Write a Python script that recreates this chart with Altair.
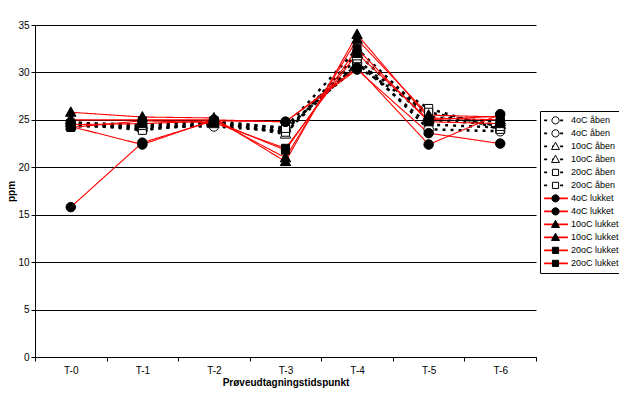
import altair as alt
import pandas as pd

times = ["T-0", "T-1", "T-2", "T-3", "T-4", "T-5", "T-6"]

keys = ["4oC åben#1", "4oC åben#2", "10oC åben#1", "10oC åben#2", "20oC åben#1", "20oC åben#2",
        "4oC lukket#1", "4oC lukket#2", "10oC lukket#1", "10oC lukket#2", "20oC lukket#1", "20oC lukket#2"]

aaben4_1 = [24.8, 24.0, 24.5, 24.0, 31.0, 24.5, 24.2]
aaben4_2 = [24.5, 24.3, 24.3, 23.8, 31.5, 24.0, 23.8]
aaben10_1 = [24.7, 24.5, 24.8, 23.5, 32.0, 25.0, 24.5]
aaben10_2 = [24.4, 24.2, 24.6, 24.2, 32.5, 25.3, 24.8]
aaben20_1 = [24.6, 23.9, 24.7, 23.7, 30.9, 26.2, 24.0]
aaben20_2 = [24.3, 24.4, 24.9, 24.1, 30.6, 25.8, 24.3]
lukket4_1 = [15.8, 22.6, 24.9, 24.8, 30.5, 22.4, 25.6]
lukket4_2 = [24.3, 22.4, 25.0, 24.8, 30.3, 23.6, 22.5]
lukket10_1 = [25.8, 25.3, 25.2, 20.6, 34.0, 25.2, 25.0]
lukket10_2 = [25.0, 25.0, 25.0, 21.0, 33.5, 25.5, 25.3]
lukket20_1 = [24.5, 24.6, 24.9, 21.8, 32.5, 24.8, 24.6]
lukket20_2 = [24.2, 24.9, 24.7, 22.0, 32.0, 25.0, 25.4]

series_values = [aaben4_1, aaben4_2, aaben10_1, aaben10_2, aaben20_1, aaben20_2,
                 lukket4_1, lukket4_2, lukket10_1, lukket10_2, lukket20_1, lukket20_2]

# marker glyphs in the unit box
CIRCLE = "M-1,0A1,1,0,1,1,1,0A1,1,0,1,1,-1,0Z"
TRIANGLE = "M0,-1.15L1.1,0.85L-1.1,0.85Z"
SQUARE = "M-0.85,-0.85H0.85V0.85H-0.85Z"
LINE_GLYPH = "M-3.3,0H3.3"

line_colors = ["black"] * 6 + ["#FF0000"] * 6
line_dashes = [[3, 5]] * 6 + [[1, 0]] * 6
marker_shapes = [CIRCLE, CIRCLE, TRIANGLE, TRIANGLE, SQUARE, SQUARE] * 2
marker_fills = ["white"] * 6 + ["black"] * 6

rows = []
for k, vals in zip(keys, series_values):
    for t, v in zip(times, vals):
        rows.append({"series": k, "mk": "m" + k, "time": t, "ppm": v})
df = pd.DataFrame(rows)
mkeys = ["m" + k for k in keys]

FONT = "Liberation Sans"
LX, LY = 505, 86

x = alt.X("time:N", sort=times,
          scale=alt.Scale(type="band", paddingInner=0, paddingOuter=0),
          axis=alt.Axis(title="Prøveudtagningstidspunkt", tickBand="extent", labelAngle=0,
                        grid=False, domainColor="black", tickColor="black", tickSize=4,
                        labelFont=FONT, labelFontSize=10, labelColor="black", labelPadding=4,
                        titleFont=FONT, titleFontSize=10, titleFontWeight="bold",
                        titleColor="black", titlePadding=2))
y = alt.Y("ppm:Q", scale=alt.Scale(domain=[0, 35], nice=False),
          axis=alt.Axis(title="ppm", values=[0, 5, 10, 15, 20, 25, 30, 35], grid=True,
                        gridColor="black", gridOpacity=1, domainColor="black", tickColor="black",
                        tickSize=4, labelFont=FONT, labelFontSize=10, labelColor="black",
                        labelPadding=2, titleFont=FONT, titleFontSize=10, titleFontWeight="bold",
                        titleColor="black", titlePadding=1))

leg_common = dict(orient="none", legendX=LX, legendY=LY, title=None, padding=3,
                  labelFont=FONT, labelFontSize=9, labelColor="black", rowPadding=0,
                  clipHeight=12.75, symbolSize=52, symbolOffset=8, labelOffset=10)

line_legend = alt.Legend(
    **leg_common, strokeColor="black", symbolType=LINE_GLYPH,
    labelExpr="substring(datum.label, 0, length(datum.label) - 2)",
    symbolStrokeWidth=1.8)

mark_legend = alt.Legend(
    **leg_common, labelExpr="''",
    symbolStrokeColor="black", symbolStrokeWidth=1)

base = alt.Chart(df)

lines = base.mark_line().encode(
    x=x, y=y,
    color=alt.Color("series:N", scale=alt.Scale(domain=keys, range=line_colors), legend=line_legend),
    strokeDash=alt.StrokeDash("series:N", scale=alt.Scale(domain=keys, range=line_dashes), legend=line_legend),
    strokeWidth=alt.condition("indexof(datum.series, 'lukket') >= 0", alt.value(1.1), alt.value(2.5)),
)

points = base.mark_point(filled=True, strokeWidth=1, opacity=1, size=90).encode(
    x=x, y=y,
    shape=alt.Shape("mk:N", scale=alt.Scale(domain=mkeys, range=marker_shapes), legend=mark_legend),
    fill=alt.Fill("mk:N", scale=alt.Scale(domain=mkeys, range=marker_fills), legend=mark_legend),
    stroke=alt.Stroke("mk:N", scale=alt.Scale(domain=mkeys, range=["black"] * 12), legend=mark_legend),
)

chart = alt.layer(lines, points).properties(
    width=501, height=332,
    background="white",
    autosize=alt.AutoSizeParams(type="none"),
    padding={"left": 27, "top": 17, "right": 83, "bottom": 31},
).configure_view(stroke=None)

chart.save("out.html", embed_options={"renderer": "svg", "actions": False})
